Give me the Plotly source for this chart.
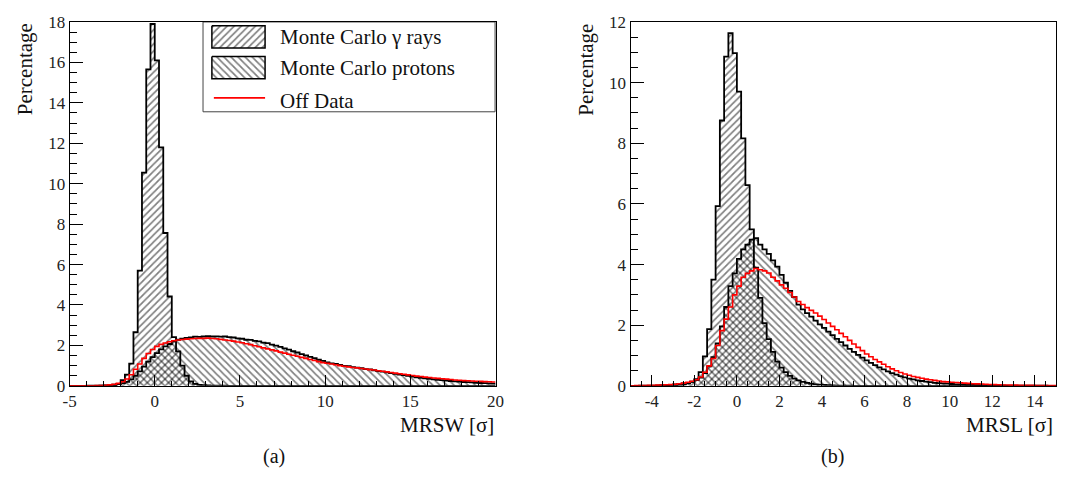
import numpy as np
import plotly.graph_objects as go

# ---------------- data: panel (a) MRSW, 100 bins of 0.25 from -5 to 20 ----------------
mrsw_range = [-5.0, 20.0]
mrsw_gamma = [
    0, 0, 0, 0,
    0, 0, 0.003, 0.005,
    0.01, 0.02, 0.04, 0.08,
    0.28, 0.55, 1.1, 2.65,
    5.7, 10.55, 15.65, 17.9,
    16.1, 11.8, 7.56, 4.42,
    2.41, 1.7, 1.0, 0.5,
    0.22, 0.1, 0.05, 0.03,
    0.02, 0.01, 0.01, 0.005,
    0.005, 0, 0, 0,
    0, 0, 0, 0, 0, 0, 0, 0, 0, 0, 0, 0, 0, 0, 0, 0, 0, 0, 0, 0,
    0, 0, 0, 0, 0, 0, 0, 0, 0, 0, 0, 0, 0, 0, 0, 0, 0, 0, 0, 0,
    0, 0, 0, 0, 0, 0, 0, 0, 0, 0, 0, 0, 0, 0, 0, 0, 0, 0, 0, 0,
]
mrsw_proton = [
    0, 0, 0, 0,
    0.004, 0.006, 0.01, 0.015,
    0.025, 0.04, 0.06, 0.09,
    0.13, 0.2, 0.32, 0.5,
    0.72, 0.95, 1.2, 1.42,
    1.62, 1.8, 1.95, 2.07,
    2.2, 2.28, 2.33, 2.37,
    2.4, 2.43, 2.42, 2.44,
    2.46, 2.44, 2.45, 2.43,
    2.44, 2.41, 2.39, 2.35,
    2.33, 2.28, 2.27, 2.22,
    2.2, 2.14, 2.11, 2.04,
    1.99, 1.93, 1.85, 1.79,
    1.71, 1.65, 1.57, 1.51,
    1.43, 1.37, 1.29, 1.23,
    1.16, 1.11, 1.08, 1.03,
    0.99, 0.97, 0.93, 0.9,
    0.87, 0.83, 0.81, 0.77,
    0.73, 0.7, 0.67, 0.63,
    0.59, 0.56, 0.53, 0.49,
    0.46, 0.42, 0.4, 0.37,
    0.34, 0.32, 0.3, 0.28,
    0.26, 0.24, 0.22, 0.21,
    0.19, 0.18, 0.17, 0.15,
    0.14, 0.13, 0.12, 0.11,
]
mrsw_off = [
    0, 0, 0, 0.002,
    0.005, 0.008, 0.012, 0.02,
    0.03, 0.05, 0.08, 0.12,
    0.2, 0.34, 0.55, 0.82,
    1.08, 1.36, 1.6, 1.8,
    1.95, 2.05, 2.12, 2.18,
    2.23, 2.27, 2.29, 2.31,
    2.33, 2.34, 2.35, 2.35,
    2.36, 2.34, 2.33, 2.3,
    2.27, 2.24, 2.21, 2.17,
    2.13, 2.08, 2.04, 1.98,
    1.93, 1.88, 1.83, 1.78,
    1.73, 1.67, 1.62, 1.56,
    1.51, 1.46, 1.41, 1.36,
    1.3, 1.25, 1.2, 1.15,
    1.12, 1.08, 1.04, 1.0,
    0.97, 0.94, 0.91, 0.89,
    0.86, 0.83, 0.8, 0.78,
    0.75, 0.72, 0.69, 0.66,
    0.63, 0.6, 0.57, 0.54,
    0.51, 0.48, 0.46, 0.43,
    0.41, 0.39, 0.37, 0.35,
    0.33, 0.31, 0.29, 0.28,
    0.26, 0.25, 0.24, 0.23,
    0.22, 0.21, 0.2, 0.19,
]

# ---------------- data: panel (b) MRSL, 100 bins of 0.2 from -5 to 15 ----------------
mrsl_range = [-5.0, 15.0]
mrsl_gamma = [
    0, 0, 0, 0, 0,
    0, 0, 0.005, 0.01, 0.01,
    0.02, 0.03, 0.05, 0.08, 0.13,
    0.22, 0.45, 0.97, 1.87, 3.5,
    5.93, 8.75, 10.86, 11.63, 10.97,
    9.7, 8.16, 6.62, 5.16, 3.9,
    2.9, 2.07, 1.54, 1.12, 0.8,
    0.6, 0.45, 0.33, 0.24, 0.18,
    0.13, 0.1, 0.07, 0.05, 0.04,
    0.03, 0.02, 0.015, 0.01, 0.01,
    0.005, 0.005, 0, 0, 0,
    0, 0, 0, 0, 0,
    0, 0, 0, 0, 0,
    0, 0, 0, 0, 0,
    0, 0, 0, 0, 0,
    0, 0, 0, 0, 0,
    0, 0, 0, 0, 0,
    0, 0, 0, 0, 0,
    0, 0, 0, 0, 0,
    0, 0, 0, 0, 0,
]
mrsl_proton = [
    0, 0.002, 0.004, 0.006, 0.008,
    0.01, 0.014, 0.02, 0.026, 0.034,
    0.045, 0.06, 0.08, 0.1, 0.14,
    0.19, 0.27, 0.42, 0.64, 0.95,
    1.4, 1.96, 2.6, 3.29, 3.71,
    4.19, 4.5, 4.66, 4.82, 4.87,
    4.66, 4.5, 4.35, 4.14, 3.93,
    3.66, 3.4, 3.13, 2.93, 2.68,
    2.52, 2.4, 2.28, 2.15, 2.03,
    1.91, 1.79, 1.67, 1.55, 1.44,
    1.33, 1.22, 1.12, 1.02, 0.93,
    0.84, 0.76, 0.68, 0.61, 0.54,
    0.48, 0.42, 0.37, 0.32, 0.28,
    0.24, 0.21, 0.18, 0.16, 0.14,
    0.12, 0.1, 0.09, 0.08, 0.07,
    0.06, 0.05, 0.045, 0.04, 0.035,
    0.03, 0.027, 0.024, 0.021, 0.018,
    0.016, 0.014, 0.012, 0.01, 0.009,
    0.008, 0.007, 0.006, 0.005, 0.004,
    0.004, 0.003, 0.003, 0.002, 0.002,
]
mrsl_off = [
    0.005, 0.008, 0.01, 0.012, 0.015,
    0.02, 0.025, 0.03, 0.035, 0.04,
    0.05, 0.07, 0.09, 0.12, 0.15,
    0.2, 0.29, 0.45, 0.66, 0.9,
    1.33, 1.82, 2.2, 2.6, 3.0,
    3.29, 3.58, 3.71, 3.79, 3.87,
    3.83, 3.79, 3.72, 3.58, 3.46,
    3.33, 3.22, 3.08, 2.93, 2.78,
    2.68, 2.58, 2.49, 2.4, 2.3,
    2.19, 2.07, 1.96, 1.85, 1.73,
    1.62, 1.5, 1.38, 1.27, 1.16,
    1.05, 0.96, 0.87, 0.79, 0.71,
    0.63, 0.56, 0.5, 0.44, 0.39,
    0.35, 0.31, 0.28, 0.25, 0.22,
    0.2, 0.18, 0.16, 0.14, 0.13,
    0.12, 0.11, 0.1, 0.09, 0.08,
    0.07, 0.065, 0.06, 0.05, 0.045,
    0.04, 0.035, 0.03, 0.028, 0.025,
    0.022, 0.02, 0.018, 0.016, 0.014,
    0.012, 0.011, 0.01, 0.009, 0.008,
]

# tick labels
mrsw_xticks = [-5, 0, 5, 10, 15, 20]
mrsw_xticktext = ["-5", "0", "5", "10", "15", "20"]
mrsw_yticks = [0, 2, 4, 6, 8, 10, 12, 14, 16, 18]
mrsl_xticks = [-4, -2, 0, 2, 4, 6, 8, 10, 12, 14]
mrsl_xticktext = ["-4", "-2", "0", "2", "4", "6", "8", "10", "12", "14"]
mrsl_yticks = [0, 2, 4, 6, 8, 10, 12]

legend_labels = ["Monte Carlo \u03b3 rays", "Monte Carlo protons", "Off Data"]

# ---------------- figure ----------------
W, H = 1067, 482
FONT = "Liberation Serif, Times New Roman, serif"
PAT_SIZE = 5
PAT_SOLID = 0.34


def px_x(p):
    return p / W


def px_y(p):
    return 1 - p / H


def hist_trace(vals, rng, xa, ya, pattern=None, color="black", width=1.8):
    edges = np.linspace(rng[0], rng[1], len(vals) + 1)
    y = list(vals) + [vals[-1]]
    kw = dict(x=edges, y=y, mode="lines",
              line=dict(shape="hv", color=color, width=width),
              xaxis=xa, yaxis=ya, showlegend=False, hoverinfo="skip")
    if pattern is not None:
        kw.update(fill="tozeroy", fillcolor="rgba(0,0,0,0)",
                  fillpattern=dict(shape=pattern, fgcolor="black",
                                   bgcolor="rgba(0,0,0,0)", size=PAT_SIZE,
                                   solidity=PAT_SOLID, fillmode="overlay"))
    return go.Scatter(**kw)


fig = go.Figure()
# panel (a)
fig.add_trace(hist_trace(mrsw_gamma, mrsw_range, "x", "y", "/"))
fig.add_trace(hist_trace(mrsw_proton, mrsw_range, "x", "y", "\\"))
fig.add_trace(hist_trace(mrsw_off, mrsw_range, "x", "y", None, "#ff0000", 1.6))
# panel (b)
fig.add_trace(hist_trace(mrsl_gamma, mrsl_range, "x2", "y2", "/"))
fig.add_trace(hist_trace(mrsl_proton, mrsl_range, "x2", "y2", "\\"))
fig.add_trace(hist_trace(mrsl_off, mrsl_range, "x2", "y2", None, "#ff0000", 1.6))

# legend keys (manual legend box in its own hidden axes, pixel-like units)
pat = dict(fgcolor="black", bgcolor="rgba(0,0,0,0)", size=PAT_SIZE, solidity=PAT_SOLID, fillmode="overlay")
fig.add_trace(go.Scatter(x=[9, 63, 63, 9, 9], y=[4, 4, 27, 27, 4], mode="lines", fill="toself",
                         fillcolor="rgba(0,0,0,0)", fillpattern=dict(shape="/", **pat),
                         line=dict(color="black", width=1.5), xaxis="x3", yaxis="y3",
                         showlegend=False, hoverinfo="skip"))
fig.add_trace(go.Scatter(x=[9, 63, 63, 9, 9], y=[36, 36, 59, 59, 36], mode="lines", fill="toself",
                         fillcolor="rgba(0,0,0,0)", fillpattern=dict(shape="\\", **pat),
                         line=dict(color="black", width=1.5), xaxis="x3", yaxis="y3",
                         showlegend=False, hoverinfo="skip"))
fig.add_trace(go.Scatter(x=[11, 63], y=[79, 79], mode="lines",
                         line=dict(color="#ff0000", width=1.6), xaxis="x3", yaxis="y3",
                         showlegend=False, hoverinfo="skip"))

tickfont = dict(family=FONT, size=17, color="#222")
common_axis = dict(showline=True, linecolor="black", linewidth=1, mirror=True,
                   ticks="inside", tickcolor="black", tickwidth=1,
                   showgrid=False, zeroline=False, tickfont=tickfont)

ydom = [px_y(392.3), px_y(13.5)]
fig.update_layout(
    width=W, height=H, margin=dict(l=0, r=0, t=0, b=0),
    paper_bgcolor="white", plot_bgcolor="rgba(0,0,0,0)",
    showlegend=False,
    font=dict(family=FONT),
    xaxis=dict(domain=[px_x(63.5), px_x(496)], range=mrsw_range, anchor="y",
               tickmode="array", tickvals=mrsw_xticks, ticktext=mrsw_xticktext, ticklen=11,
               minor=dict(ticks="inside", ticklen=5, tickmode="linear", tick0=-5, dtick=1,
                          tickcolor="black", tickwidth=1, showgrid=False),
               **common_axis),
    yaxis=dict(domain=ydom, range=[0, 18], anchor="x",
               tickmode="array", tickvals=mrsw_yticks, ticklen=13,
               minor=dict(ticks="inside", ticklen=7, tickmode="linear", tick0=0, dtick=0.5,
                          tickcolor="black", tickwidth=1, showgrid=False),
               **common_axis),
    xaxis2=dict(domain=[px_x(633), px_x(1065)], range=mrsl_range, anchor="y2",
                tickmode="array", tickvals=mrsl_xticks, ticktext=mrsl_xticktext, ticklen=11,
                minor=dict(ticks="inside", ticklen=5, tickmode="linear", tick0=-5, dtick=0.5,
                           tickcolor="black", tickwidth=1, showgrid=False),
                **common_axis),
    yaxis2=dict(domain=ydom, range=[0, 12], anchor="x2",
                tickmode="array", tickvals=mrsl_yticks, ticklen=13,
                minor=dict(ticks="inside", ticklen=7, tickmode="linear", tick0=0, dtick=0.5,
                           tickcolor="black", tickwidth=1, showgrid=False),
                **common_axis),
    xaxis3=dict(domain=[px_x(199), px_x(495)], range=[0, 296], anchor="y3", visible=False,
                fixedrange=True),
    yaxis3=dict(domain=[px_y(107), px_y(13.5)], range=[93.5, 0], anchor="x3", visible=False,
                fixedrange=True),
)

# legend frame
fig.add_shape(type="rect", xref="paper", yref="paper",
              x0=px_x(199), x1=px_x(495.5), y0=px_y(107), y1=px_y(13.5),
              line=dict(color="#444", width=1), fillcolor="white", layer="below")

title_font = dict(family=FONT, size=21, color="#111")
ann = []
for lab, yy in zip(legend_labels, [16, 48, 82]):
    ann.append(dict(x=76, y=yy, xref="x3", yref="y3", text=lab, showarrow=False,
                    xanchor="left", yanchor="middle", font=title_font))
ann += [
    dict(x=px_x(19), y=px_y(13), xref="paper", yref="paper", text="Percentage",
         textangle=-90, showarrow=False, xanchor="center", yanchor="top", font=title_font),
    dict(x=px_x(588), y=px_y(13), xref="paper", yref="paper", text="Percentage",
         textangle=-90, showarrow=False, xanchor="center", yanchor="top", font=title_font),
    dict(x=px_x(496), y=px_y(418), xref="paper", yref="paper", text="MRSW [\u03c3]",
         showarrow=False, xanchor="right", yanchor="top", font=title_font),
    dict(x=px_x(1064), y=px_y(418), xref="paper", yref="paper", text="MRSL [\u03c3]",
         showarrow=False, xanchor="right", yanchor="top", font=title_font),
    dict(x=px_x(271), y=px_y(466), xref="paper", yref="paper", text="(a)",
         showarrow=False, xanchor="center", yanchor="middle",
         font=dict(family=FONT, size=20, color="#111")),
    dict(x=px_x(838), y=px_y(466), xref="paper", yref="paper", text="(b)",
         showarrow=False, xanchor="center", yanchor="middle",
         font=dict(family=FONT, size=20, color="#111")),
]
fig.update_layout(annotations=ann)

fig.write_html("out.html")
